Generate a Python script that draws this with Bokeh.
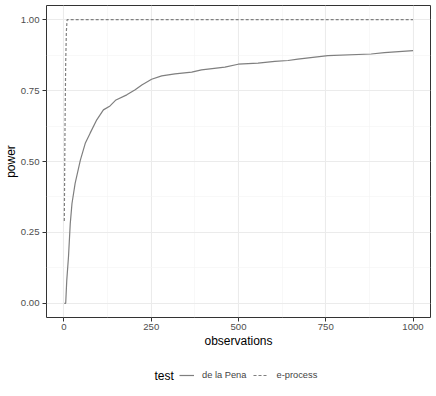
from bokeh.plotting import figure
from bokeh.layouts import column
from bokeh.models import Range1d, FixedTicker, Legend, LegendItem, Label
from bokeh.embed import file_html
from bokeh.resources import INLINE

# de la Pena power curve (observations, power)
dlp_obs = [1, 5, 8, 13, 18, 23, 32, 47, 61, 75, 94, 113, 132, 149, 180, 204, 223,
           251, 280, 318, 366, 394, 461, 499, 556, 604, 642, 670, 756, 880, 918, 1000]
dlp_power = [0.0, 0.0, 0.08, 0.164, 0.28, 0.352, 0.423, 0.505, 0.564, 0.6, 0.647,
             0.682, 0.696, 0.717, 0.735, 0.753, 0.77, 0.79, 0.802, 0.809, 0.815,
             0.823, 0.833, 0.843, 0.847, 0.853, 0.856, 0.861, 0.873, 0.879, 0.884, 0.891]

# e-process power curve
ep_obs = [1, 3, 5, 7, 9, 1000]
ep_power = [0.29, 0.62, 0.85, 0.96, 1.0, 1.0]

x_ticks = [0, 250, 500, 750, 1000]
x_minor = [125, 375, 625, 875]
y_ticks = [0.0, 0.25, 0.5, 0.75, 1.0]
y_minor = [0.125, 0.375, 0.625, 0.875]
y_labels = {0.0: "0.00", 0.25: "0.25", 0.5: "0.50", 0.75: "0.75", 1.0: "1.00"}
series_names = ["de la Pena", "e-process"]
legend_title = "test"

FONT = "Liberation Sans"
GREY = "#7F7F7F"

p = figure(width=436, height=358, output_backend="svg", toolbar_location=None,
           x_range=Range1d(-50, 1050), y_range=Range1d(-0.05, 1.05))
p.min_border_left = 45
p.min_border_right = 6
p.min_border_top = 5
p.min_border_bottom = 41
p.background_fill_color = "white"
p.border_fill_color = "white"
p.outline_line_color = "#333333"
p.outline_line_width = 1

for ax in (p.xaxis[0], p.yaxis[0]):
    ax.axis_line_color = None
    ax.major_tick_line_color = "#333333"
    ax.major_tick_out = 4
    ax.major_tick_in = 0
    ax.minor_tick_line_color = None
    ax.major_label_text_color = "#4D4D4D"
    ax.major_label_text_font = FONT
    ax.major_label_text_font_size = "9.6px"
    ax.axis_label_text_font = FONT
    ax.axis_label_text_font_size = "12px"
    ax.axis_label_text_font_style = "normal"
    ax.axis_label_text_color = "black"

p.xaxis[0].ticker = FixedTicker(ticks=x_ticks, minor_ticks=x_minor)
p.yaxis[0].ticker = FixedTicker(ticks=y_ticks, minor_ticks=y_minor)
p.yaxis[0].major_label_overrides = y_labels
p.xaxis[0].axis_label = "observations"
p.yaxis[0].axis_label = "power"
p.xaxis[0].major_label_standoff = 2
p.xaxis[0].axis_label_standoff = 1
p.yaxis[0].major_label_standoff = 3
p.yaxis[0].axis_label_standoff = 0

for g in (p.xgrid[0], p.ygrid[0]):
    g.grid_line_color = "#EBEBEB"
    g.grid_line_width = 1.1
    g.minor_grid_line_color = "#F3F3F3"
    g.minor_grid_line_width = 0.6

p.line(dlp_obs, dlp_power, line_color=GREY, line_width=1.2)
p.line(ep_obs, ep_power, line_color=GREY, line_width=1.2, line_dash="3 2")

# legend strip below the plot (dummy renderers only supply the key styles)
lg = figure(width=436, height=38, output_backend="svg", toolbar_location=None,
            x_axis_location=None, y_axis_location=None, min_border=0,
            x_range=Range1d(0, 1), y_range=Range1d(0, 1))
lg.outline_line_color = None
lg.xgrid.visible = False
lg.ygrid.visible = False
nan = float("nan")
k1 = lg.line([nan, nan], [nan, nan], line_color=GREY, line_width=1.2)
k2 = lg.line([nan, nan], [nan, nan], line_color=GREY, line_width=1.2, line_dash="3 2")
legend = Legend(items=[LegendItem(label=series_names[0], renderers=[k1]),
                       LegendItem(label=series_names[1], renderers=[k2])],
                orientation="horizontal", location=(133, 15),
                label_text_font=FONT, label_text_font_size="9.3px",
                label_standoff=8, glyph_width=15, glyph_height=12,
                label_height=12, spacing=7, padding=0, margin=0,
                border_line_color=None, background_fill_color=None)
lg.add_layout(legend, "center")
lg.add_layout(Label(x=108, y=21, x_units="screen", y_units="screen", text=legend_title,
                    text_font=FONT, text_font_size="12px", text_color="black",
                    text_baseline="middle", text_align="left"))

layout = column(p, lg, spacing=0)
open("out.html", "w").write(file_html(layout, INLINE))
